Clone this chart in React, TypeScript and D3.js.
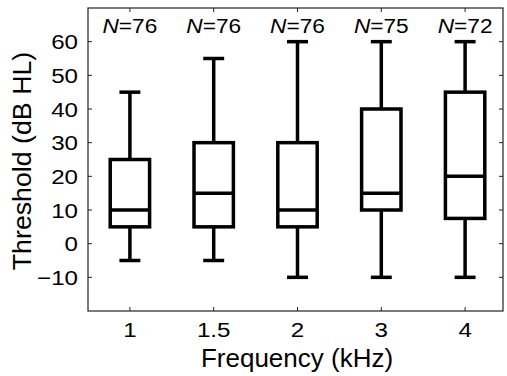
import * as d3 from "d3";

// frequency categories (kHz) and box statistics
const categories = ["1", "1.5", "2", "3", "4"];
const counts = [76, 76, 76, 75, 72];
const whiskerLow = [-5, -5, -10, -10, -10];
const q1 = [5, 5, 5, 10, 7.5];
const medians = [10, 15, 10, 15, 20];
const q3 = [25, 30, 30, 40, 45];
const whiskerHigh = [45, 55, 60, 60, 60];
const yTicks = [-10, 0, 10, 20, 30, 40, 50, 60];

const width = 507;
const height = 376;
const marginLeft = 88;
const marginRight = 4;
const marginTop = 8;
const marginBottom = 65;
const font = "Arial, 'Liberation Sans', Helvetica, sans-serif";

// text that is a little wider than the font, like the original export
function Label({ x, y, sx = 1.15, anchor = "middle", size = 21, rotate = 0, children }: any) {
  return (
    <text transform={`translate(${x},${y}) rotate(${rotate}) scale(${sx},1)`} textAnchor={anchor}
      fontSize={size} fontFamily={font}>
      {children}
    </text>
  );
}

export default function App() {
  const x = d3.scaleLinear([0.5, 5.5], [marginLeft, width]);
  const y = d3.scaleLinear([-20, 70], [height - marginBottom, marginTop]);
  const right = width - marginRight;
  const bottom = height - marginBottom;
  const step = x(2) - x(1);
  const boxW = step * 0.47;
  const capW = step * 0.25;

  return (
    <svg width={width} height={height} style={{ position: "absolute", left: 0, top: 0 }}>
      <rect width={width} height={height} fill="white" />
      {/* frame */}
      <rect x={marginLeft} y={marginTop} width={right - marginLeft} height={bottom - marginTop}
        fill="none" stroke="#222" strokeWidth={1.2} />
      {/* y ticks left and right */}
      {yTicks.map((t) => (
        <g key={t}>
          <line x1={marginLeft} x2={marginLeft + 4} y1={y(t)} y2={y(t)} stroke="#222" />
          <line x1={right - 4} x2={right} y1={y(t)} y2={y(t)} stroke="#222" />
          <Label x={marginLeft - 10} y={y(t) + 7.5} anchor="end">
            {t < 0 ? "\u2212" + Math.abs(t) : t}
          </Label>
        </g>
      ))}
      {/* x ticks bottom and top */}
      {categories.map((c, i) => (
        <g key={c}>
          <line x1={x(i + 1)} x2={x(i + 1)} y1={bottom} y2={bottom - 4} stroke="#222" />
          <line x1={x(i + 1)} x2={x(i + 1)} y1={marginTop} y2={marginTop + 4} stroke="#222" />
          <Label x={x(i + 1)} y={bottom + 26}>{c}</Label>
          <Label x={x(i + 1)} y={33} sx={1.08}>
            <tspan fontStyle="italic">N</tspan>={counts[i]}
          </Label>
        </g>
      ))}
      {/* boxes */}
      <g stroke="black" strokeWidth={3.5} fill="none">
        {categories.map((c, i) => {
          const cx = x(i + 1);
          return (
            <g key={c}>
              <line x1={cx} x2={cx} y1={y(q3[i])} y2={y(whiskerHigh[i])} />
              <line x1={cx} x2={cx} y1={y(q1[i])} y2={y(whiskerLow[i])} />
              <line x1={cx - capW / 2} x2={cx + capW / 2} y1={y(whiskerHigh[i])} y2={y(whiskerHigh[i])} />
              <line x1={cx - capW / 2} x2={cx + capW / 2} y1={y(whiskerLow[i])} y2={y(whiskerLow[i])} />
              <rect x={cx - boxW / 2} y={y(q3[i])} width={boxW} height={y(q1[i]) - y(q3[i])} fill="white" />
              <line x1={cx - boxW / 2} x2={cx + boxW / 2} y1={y(medians[i])} y2={y(medians[i])} />
            </g>
          );
        })}
      </g>
      {/* axis titles */}
      <Label x={297} y={366.5} size={25} sx={1.04}>Frequency (kHz)</Label>
      <Label x={31} y={161} size={25} sx={1.07} rotate={-90}>Threshold (dB HL)</Label>
    </svg>
  );
}
